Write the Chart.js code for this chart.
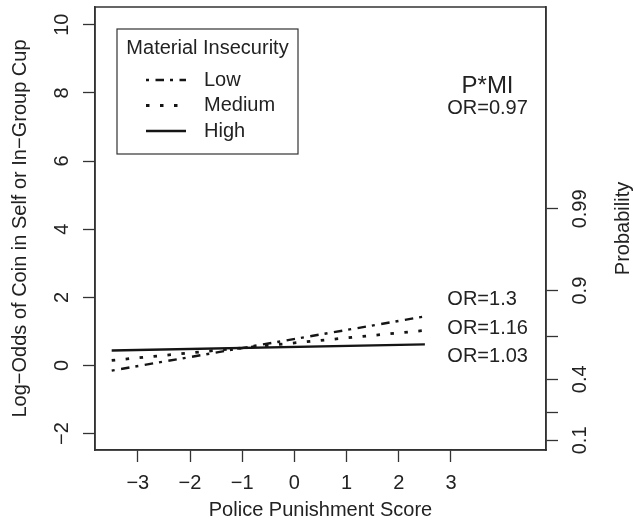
<!DOCTYPE html>
<html>
<head>
<meta charset="utf-8">
<script src="https://cdn.jsdelivr.net/npm/chart.js@4.4.1/dist/chart.umd.min.js"></script>
<style>
  html, body { margin: 0; padding: 0; background: #fff; }
</style>
</head>
<body>
<canvas id="chart" width="634" height="530"></canvas>
<script>
// values
const xVals = [-3.5, 2.5];
const lowVals = [-0.15, 1.44];
const mediumVals = [0.15, 1.03];
const highVals = [0.44, 0.62];
const seriesNames = ["Low", "Medium", "High"];

const xTicks = [-3, -2, -1, 0, 1, 2, 3];
const yTicks = [-2, 0, 2, 4, 6, 8, 10];
const probTicks = [0.1, 0.2, 0.4, 0.7, 0.9, 0.99];
const probLabels = ["0.1", "", "0.4", "", "0.9", "0.99"];

const noteTexts = ["P*MI", "OR=0.97", "OR=1.3", "OR=1.16", "OR=1.03"];
const noteX = [3.7, 3.7, 2.93, 2.93, 2.93];
const noteY = [8.2, 7.55, 1.94, 1.1, 0.26];

const FONT = "'Liberation Sans', Arial, sans-serif";
const INK = "#222";

function logit(p) {
  return Math.log(p / (1 - p));
}

function minus(v) {
  return String(v).replace("-", "\u2212");
}

function toPoints(ys) {
  return xVals.map((x, i) => ({ x: x, y: ys[i] }));
}

function rotText(ctx, text, x, y) {
  ctx.save();
  ctx.translate(x, y);
  ctx.rotate(-Math.PI / 2);
  ctx.fillText(text, 0, 0);
  ctx.restore();
}

// box, rotated labels, legend and notes
const decorPlugin = {
  id: "decor",
  afterDraw(chart) {
    const { ctx, chartArea: a, scales } = chart;
    ctx.save();
    ctx.strokeStyle = "#333";
    ctx.lineWidth = 1.5;
    ctx.strokeRect(a.left, a.top, a.right - a.left, a.bottom - a.top);

    ctx.fillStyle = INK;
    ctx.font = "20px " + FONT;
    ctx.textAlign = "center";
    ctx.textBaseline = "middle";
    yTicks.forEach((v) => {
      rotText(ctx, minus(v), a.left - 33, scales.y.getPixelForValue(v));
    });
    probTicks.forEach((p, i) => {
      if (!probLabels[i]) return;
      rotText(ctx, probLabels[i], a.right + 34, scales.y2.getPixelForValue(logit(p)));
    });
    rotText(ctx, "Probability", 623, (a.top + a.bottom) / 2);

    // notes
    noteTexts.forEach((t, i) => {
      ctx.font = (i === 0 ? "24px " : "20px ") + FONT;
      ctx.textAlign = i < 2 ? "center" : "left";
      ctx.fillText(t, scales.x.getPixelForValue(noteX[i]), scales.y.getPixelForValue(noteY[i]));
    });

    // legend
    const lx = 117, ly = 29, lw = 181, lh = 125;
    ctx.lineWidth = 1.2;
    ctx.strokeStyle = "#333";
    ctx.strokeRect(lx, ly, lw, lh);
    ctx.font = "20px " + FONT;
    ctx.textAlign = "center";
    ctx.fillText("Material Insecurity", lx + lw / 2, ly + 19);
    ctx.textAlign = "left";
    chart.data.datasets.forEach((ds, i) => {
      const yy = ly + 51 + i * 25.5;
      ctx.save();
      ctx.strokeStyle = ds.borderColor;
      ctx.lineWidth = ds.borderWidth;
      ctx.setLineDash(ds.borderDash || []);
      ctx.beginPath();
      ctx.moveTo(lx + 29, yy);
      ctx.lineTo(lx + 69, yy);
      ctx.stroke();
      ctx.restore();
      ctx.fillText(ds.label, lx + 87, yy);
    });
    ctx.restore();
  },
};

const axisGrid = {
  drawOnChartArea: false,
  drawTicks: true,
  tickLength: 12,
  tickColor: "#333",
  tickWidth: 1.3,
};

const ctx = document.getElementById("chart").getContext("2d");
new Chart(ctx, {
  type: "line",
  data: {
    datasets: [
      {
        label: seriesNames[0],
        data: toPoints(lowVals),
        borderColor: "#151515",
        borderWidth: 2.4,
        borderDash: [3, 6.5, 8.5, 6],
      },
      {
        label: seriesNames[1],
        data: toPoints(mediumVals),
        borderColor: "#151515",
        borderWidth: 2.8,
        borderDash: [3.5, 10.5],
      },
      {
        label: seriesNames[2],
        data: toPoints(highVals),
        borderColor: "#151515",
        borderWidth: 2.3,
      },
    ],
  },
  options: {
    responsive: false,
    animation: false,
    devicePixelRatio: 1,
    layout: { padding: { top: 7, left: 0, right: 0, bottom: 0 } },
    elements: { point: { radius: 0 }, line: { tension: 0 } },
    plugins: { legend: { display: false }, tooltip: { enabled: false } },
    scales: {
      x: {
        type: "linear",
        min: -3.82,
        max: 4.82,
        afterBuildTicks: (s) => {
          s.ticks = xTicks.map((v) => ({ value: v }));
        },
        afterFit: (s) => {
          s.height = 80;
        },
        grid: axisGrid,
        border: { display: true, color: "#333", width: 1.5 },
        ticks: {
          autoSkip: false,
          maxRotation: 0,
          padding: 9,
          color: INK,
          font: { family: FONT, size: 20 },
          callback: (v) => minus(v),
        },
        title: {
          display: true,
          text: "Police Punishment Score",
          color: INK,
          font: { family: FONT, size: 20 },
          padding: { top: 0, bottom: 8 },
        },
      },
      y: {
        type: "linear",
        position: "left",
        min: -2.48,
        max: 10.52,
        afterBuildTicks: (s) => {
          s.ticks = yTicks.map((v) => ({ value: v }));
        },
        afterFit: (s) => {
          s.width = 95;
        },
        grid: axisGrid,
        border: { display: true, color: "#333", width: 1.5 },
        ticks: { display: false, autoSkip: false },
        title: {
          display: true,
          text: "Log\u2212Odds of Coin in Self or In\u2212Group Cup",
          color: INK,
          font: { family: FONT, size: 20 },
          padding: { top: 8, bottom: 0 },
        },
      },
      y2: {
        type: "linear",
        position: "right",
        min: -2.48,
        max: 10.52,
        afterBuildTicks: (s) => {
          s.ticks = probTicks.map((p) => ({ value: logit(p) }));
        },
        afterFit: (s) => {
          s.width = 88;
        },
        grid: axisGrid,
        border: { display: true, color: "#333", width: 1.5 },
        ticks: { display: false, autoSkip: false },
      },
    },
  },
  plugins: [decorPlugin],
});
</script>
</body>
</html>
